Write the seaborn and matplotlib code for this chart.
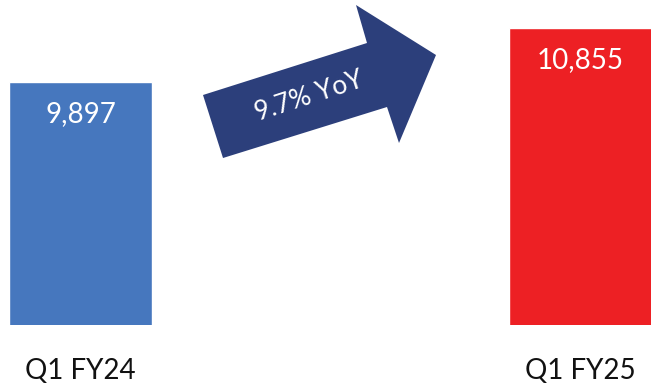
import matplotlib
matplotlib.use("Agg")
import matplotlib.pyplot as plt
from matplotlib.patches import Polygon
import seaborn as sns
import pandas as pd

categories = ["Q1 FY24", "Q1 FY25"]
values = [9897, 10855]
value_labels = ["9,897", "10,855"]
growth_label = "9.7% YoY"
colors = ["#4677BE", "#ED2024"]
arrow_color = "#2C3F7B"

sns.set_theme(style="white")
plt.rcParams["font.family"] = ["Lato", "DejaVu Sans"]

W, H = 651, 388
fig = plt.figure(figsize=(W / 100, H / 100), dpi=100)
ax = fig.add_axes([0, (H - 325) / H, 1, 325 / H])

df = pd.DataFrame({"cat": categories, "val": values})
sns.barplot(data=df, x="cat", y="val", hue="cat", palette=colors,
            width=0.286, legend=False, ax=ax, saturation=1)

ax.set_xlim(-0.161, 1.141)
ax.set_ylim(5586, 11352)
for s in ax.spines.values():
    s.set_visible(False)
ax.set_yticks([])
ax.set_xlabel("")
ax.set_ylabel("")
ax.tick_params(axis="x", length=0, pad=24, labelsize=20, labelcolor="#111111")

for i, (v, lab) in enumerate(zip(values, value_labels)):
    ax.annotate(lab, xy=(i, v), xytext=(0, -23), textcoords="offset points",
                ha="center", va="center", color="white", fontsize=20)

# decorative arrow in figure pixel coordinates (y measured from top)
pts_px = [(223, 158), (203, 95), (367, 43), (356, 5), (436, 55), (399, 143), (387, 107)]
pts = [(x / W, 1 - y / H) for x, y in pts_px]
fig.patches.append(Polygon(pts, closed=True, transform=fig.transFigure,
                           facecolor=arrow_color, edgecolor="none"))
fig.text(309 / W, 1 - 96 / H, growth_label, rotation=18, ha="center", va="center",
         color="white", fontsize=19, rotation_mode="anchor")

fig.savefig("out.png", dpi=100)
